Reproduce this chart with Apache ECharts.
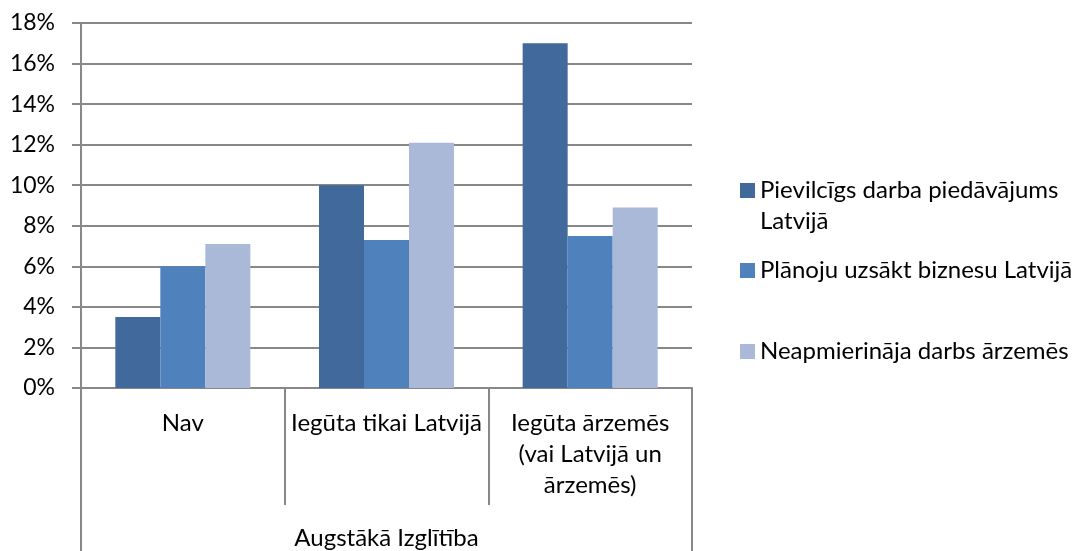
<!DOCTYPE html>
<html lang="lv">
<head>
    <meta charset="UTF-8">
    <title>Augstākā Izglītība</title>
    <script src="https://cdn.jsdelivr.net/npm/echarts@6/dist/echarts.min.js"></script>
    <style>
        html, body { margin: 0; padding: 0; background: #fff; }
        #chart { width: 1080px; height: 551px; }
    </style>
</head>
<body>
<div id="chart"></div>
<script type="text/javascript">
    // dati
    var categories = ['Nav', 'Iegūta tikai Latvijā', 'Iegūta ārzemēs\n(vai Latvijā un\nārzemēs)'];
    var groupLabel = ['Augstākā Izglītība'];
    var seriesNames = ['Pievilcīgs darba piedāvājums Latvijā', 'Plānoju uzsākt biznesu Latvijā', 'Neapmierināja darbs ārzemēs'];
    var pievilcigs = [0.035, 0.100, 0.170];
    var planoju = [0.060, 0.073, 0.075];
    var neapmierinaja = [0.071, 0.121, 0.089];
    var colors = ['#41699B', '#4F81BD', '#AAB9D7'];

    var font = 'Lato';
    var gray = '#888888';

    var chart = echarts.init(document.getElementById('chart'));

    function legendItem(idx, top, text) {
        return {
            orient: 'vertical',
            left: 735,
            top: top,
            icon: 'rect',
            itemWidth: 15,
            itemHeight: 15,
            data: [seriesNames[idx]],
            formatter: function () { return text; },
            textStyle: { fontFamily: font, fontSize: 24, color: '#000', lineHeight: 31 },
            selectedMode: false
        };
    }

    chart.setOption({
        color: colors,
        animation: false,
        grid: { left: 81, right: 388, top: 23, bottom: 163 },
        legend: [
            legendItem(0, 139, '\nPievilcīgs darba piedāvājums\nLatvijā'),
            legendItem(1, 250, seriesNames[1]),
            legendItem(2, 331, seriesNames[2])
        ],
        xAxis: [
            {
                type: 'category',
                position: 'bottom',
                data: categories,
                axisLine: { show: true, lineStyle: { color: gray, width: 2 } },
                axisTick: { show: true, length: 117, lineStyle: { color: gray, width: 2 } },
                axisLabel: {
                    interval: 0,
                    margin: 20,
                    fontFamily: font,
                    fontSize: 24,
                    color: '#000',
                    lineHeight: 31
                }
            },
            {
                type: 'category',
                position: 'bottom',
                data: groupLabel,
                axisLine: { show: false },
                axisTick: { show: true, length: 170, lineStyle: { color: gray, width: 2 } },
                axisLabel: {
                    margin: 138,
                    fontFamily: font,
                    fontSize: 24,
                    color: '#000'
                }
            }
        ],
        yAxis: {
            type: 'value',
            min: 0,
            max: 0.18,
            interval: 0.02,
            axisLine: { show: true, lineStyle: { color: gray, width: 2 } },
            axisTick: { show: true, length: 9, lineStyle: { color: gray, width: 2 } },
            splitLine: { lineStyle: { color: gray, width: 2 } },
            axisLabel: {
                margin: 26,
                fontFamily: font,
                fontSize: 23,
                color: '#000',
                formatter: function (v) { return Math.round(v * 100) + '%'; }
            }
        },
        series: [
            { name: seriesNames[0], type: 'bar', data: pievilcigs, barGap: '0%', barCategoryGap: '33.7%' },
            { name: seriesNames[1], type: 'bar', data: planoju },
            { name: seriesNames[2], type: 'bar', data: neapmierinaja }
        ]
    });
</script>
</body>
</html>
